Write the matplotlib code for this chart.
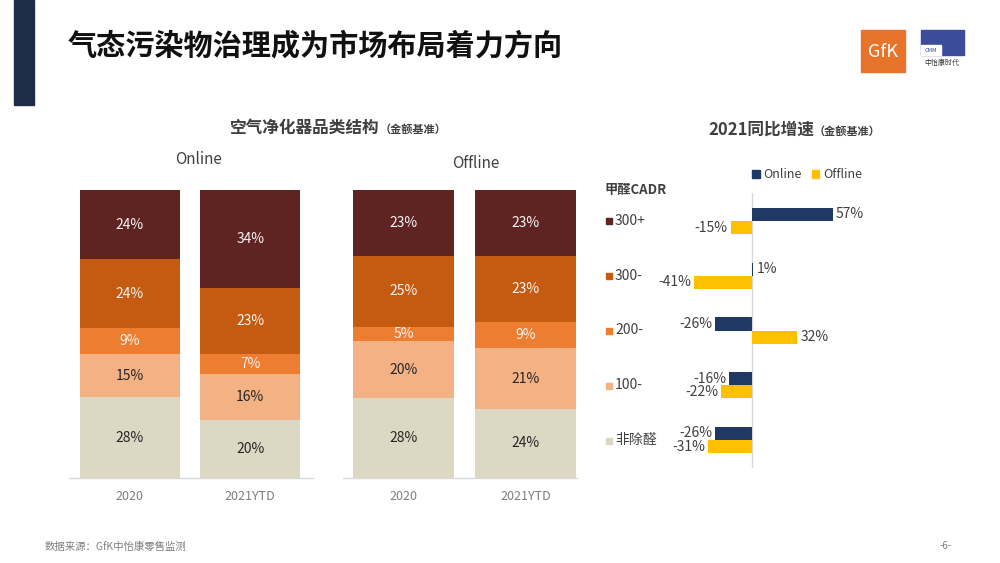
import matplotlib
matplotlib.use("Agg")
import matplotlib.pyplot as plt
from matplotlib.patches import Rectangle, Patch

plt.rcParams['font.family'] = ['Noto Sans CJK SC', 'DejaVu Sans']

# 数据
segments = ["非除醛", "100-", "200-", "300-", "300+"]
seg_colors = ["#DDD8C4", "#F4B183", "#ED7D31", "#C55A11", "#5F2321"]
seg_text = ["#262626", "#262626", "#F5F5F5", "#F5F5F5", "#F5F5F5"]
years = ["2020", "2021YTD"]
online_share = {"2020": [28, 15, 9, 24, 24], "2021YTD": [20, 16, 7, 23, 34]}
offline_share = {"2020": [28, 20, 5, 25, 23], "2021YTD": [24, 21, 9, 23, 23]}

growth_cats = ["300+", "300-", "200-", "100-", "非除醛"]
growth_online = [57, 1, -26, -16, -26]
growth_offline = [-15, -41, 32, -22, -31]

W, H = 1000, 563
fig = plt.figure(figsize=(W / 100, H / 100), dpi=100)


def box(x0, y0, x1, y1):
    # 像素框（左上为原点）-> figure 坐标
    return [x0 / W, 1 - y1 / H, (x1 - x0) / W, (y1 - y0) / H]


def fx(x):
    return x / W


def fy(y):
    return 1 - y / H


# 页眉
fig.patches.append(Rectangle((fx(14), fy(105)), 20 / W, 105 / H, color="#1F2C4A",
                             transform=fig.transFigure))
fig.text(fx(68), fy(45), "气态污染物治理成为市场布局着力方向", fontsize=21,
         fontweight="bold", color="#111111", va="center")

# logos
fig.patches.append(Rectangle((fx(861), fy(72)), 44 / W, 42 / H, color="#E8742B",
                             transform=fig.transFigure))
fig.text(fx(883), fy(52), "GfK", fontsize=13, color="white", ha="center", va="center")
fig.patches.append(Rectangle((fx(921), fy(55)), 43 / W, 25 / H, color="#3C4C9C",
                             transform=fig.transFigure))
fig.patches.append(Rectangle((fx(921), fy(55)), 20 / W, 10 / H, color="white",
                             transform=fig.transFigure))
fig.text(fx(931), fy(50), "CMM", fontsize=4, color="#3C4C9C", ha="center", va="center")
fig.text(fx(942), fy(63), "中怡康时代", fontsize=5, color="#333333", ha="center", va="center")

renderer = fig.canvas.get_renderer()


def title(x, y, main, sub, size=12):
    t = fig.text(fx(x), fy(y), main, fontsize=size, fontweight="bold",
                 color="#404040", va="center")
    bb = t.get_window_extent(renderer)
    fig.text(bb.x1 / W, fy(y + 1), sub, fontsize=8, fontweight="bold",
             color="#404040", va="center")


title(230, 128, "空气净化器品类结构", "（金额基准）")
title(708, 130, "2021同比增速", "（金额基准）")


def stacked(rect, data, label, label_xy, line_span):
    ax = fig.add_axes(rect)
    for i, yr in enumerate(years):
        vals = data[yr]
        total = sum(vals)
        bottom = 0
        for v, c, tc in zip(vals, seg_colors, seg_text):
            h = v / total * 100
            ax.bar(i, h, bottom=bottom, width=0.83, color=c, edgecolor="none")
            ax.text(i, bottom + h / 2, f"{v}%", ha="center", va="center",
                    fontsize=10, color=tc)
            bottom += h
    ax.set_xlim(-0.58, 1.58)
    ax.set_ylim(0, 100)
    ax.set_xticks(range(len(years)))
    ax.set_xticklabels(years, fontsize=9, color="#7F7F7F")
    ax.tick_params(axis="x", length=0, pad=9)
    ax.set_yticks([])
    for s in ax.spines.values():
        s.set_visible(False)
    ax.axhline(0, xmin=line_span[0], xmax=line_span[1], color="#D9D9D9", lw=1,
               clip_on=False)
    fig.text(fx(label_xy[0]), fy(label_xy[1]), label, fontsize=11,
             color="#404040", ha="center", va="center")
    return ax


stacked(box(60, 190, 320, 478), online_share, "Online", (198, 160), (0.035, 0.973))
stacked(box(333, 190, 596, 478), offline_share, "Offline", (476, 164), (0.038, 0.928))

# 同比增速
zero_px, scale = 752, 1.42
ax3 = fig.add_axes(box(660, 193, 900, 468))
ax3.set_xlim((660 - zero_px) / scale, (900 - zero_px) / scale)
ax3.set_ylim(4.51, -0.51)
ypos = list(range(len(growth_cats)))
bh = 0.24
ax3.barh([y - bh / 2 for y in ypos], growth_online, height=bh, color="#1F3864")
ax3.barh([y + bh / 2 for y in ypos], growth_offline, height=bh, color="#FFC000")
ax3.axvline(0, color="#D9D9D9", lw=1, zorder=0)
for y, v in zip(ypos, growth_online):
    ax3.text(v + (2 if v >= 0 else -2), y - bh / 2, f"{v}%", ha="left" if v >= 0 else "right",
             va="center", fontsize=10, color="#404040")
for y, v in zip(ypos, growth_offline):
    ax3.text(v + (2 if v >= 0 else -2), y + bh / 2, f"{v}%", ha="left" if v >= 0 else "right",
             va="center", fontsize=10, color="#404040")
ax3.axis("off")

fig.text(fx(605), fy(190), "甲醛CADR", fontsize=9.5, fontweight="bold",
         color="#404040", va="center")
cat_colors = dict(zip(segments, seg_colors))
for y, c in zip(ypos, growth_cats):
    yy = ax3.transData.transform((0, y))[1] / H
    fig.patches.append(Rectangle((fx(606), yy - 3.5 / H), 6 / W, 6 / H,
                                 color=cat_colors[c], transform=fig.transFigure))
    fig.text(fx(615), yy, c, fontsize=10, color="#404040", va="center")

fig.legend(handles=[Patch(color="#1F3864", label="Online"),
                    Patch(color="#FFC000", label="Offline")],
           loc="center", bbox_to_anchor=(fx(807), fy(175)), ncol=2, frameon=False,
           fontsize=9, handlelength=0.6, handleheight=0.6, handletextpad=0.3,
           columnspacing=0.8, labelcolor="#404040")

# 页脚
fig.text(fx(45), fy(546), "数据来源：GfK中怡康零售监测", fontsize=7.5,
         color="#7F7F7F", va="center")
fig.text(fx(940), fy(546), "-6-", fontsize=7, color="#7F7F7F", va="center")

fig.savefig("out.png", dpi=100)
